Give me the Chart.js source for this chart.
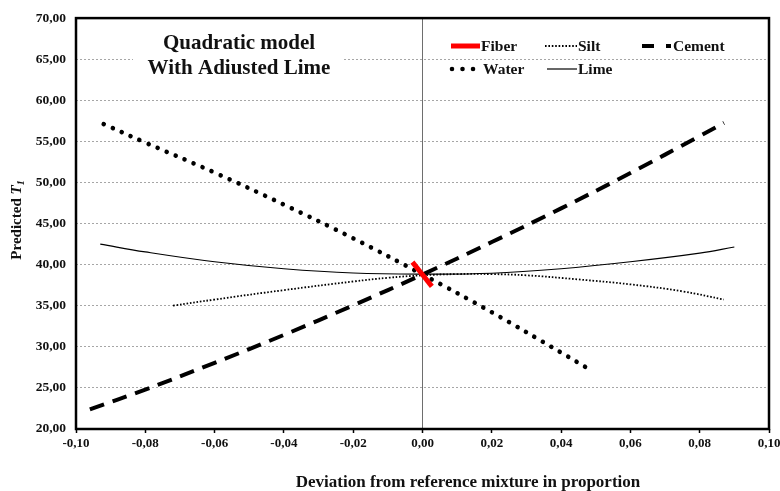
<!DOCTYPE html>
<html>
<head>
<meta charset="utf-8">
<script src="https://cdn.jsdelivr.net/npm/chart.js@4"></script>
<style>
  body { margin: 0; background: #fff; }
  canvas { display: block; }
</style>
</head>
<body>
<canvas id="myChart" width="780" height="491"></canvas>
<script>
// Datos (x = desviación, y = T1 predicho)
const xFiber = [-0.0029, 0.0027]
const yFiber = [40.3, 37.35]

const xSilt = [-0.072, -0.06, -0.04, -0.02, -0.01, 0, 0.01, 0.02, 0.03, 0.045, 0.06, 0.075, 0.087]
const ySilt = [35.0, 35.75, 36.9, 37.95, 38.4, 38.7, 38.85, 38.85, 38.7, 38.2, 37.6, 36.75, 35.75]

const xCement = [-0.096, -0.08, -0.06, -0.04, -0.02, 0, 0.02, 0.04, 0.06, 0.08, 0.087]
const yCement = [22.4, 24.8, 28.05, 31.45, 35.05, 38.8, 42.75, 46.85, 51.15, 55.65, 57.25]

const xWater = [-0.092, -0.08, -0.06, -0.04, -0.02, 0, 0.02, 0.04, 0.047]
const yWater = [57.1, 54.85, 51.2, 47.3, 43.2, 38.8, 34.2, 29.3, 27.55]

const xLime = [-0.093, -0.08, -0.06, -0.04, -0.02, 0, 0.02, 0.04, 0.06, 0.08, 0.09]
const yLime = [42.5, 41.55, 40.35, 39.5, 38.98, 38.85, 38.95, 39.5, 40.35, 41.4, 42.15]

const titleLines = ['Quadratic model', 'With Adiusted Lime']
const xTitle = 'Deviation from reference mixture in proportion'

const serif = '"Liberation Serif", "Times New Roman", serif'

// Une arrays x / y en puntos
const toPoints = (xs, ys) => xs.map((x, i) => ({x: x, y: ys[i]}))

// Formato con coma decimal
const fmt = v => (Math.abs(v) < 1e-9 ? 0 : v).toFixed(2).replace('.', ',')

// Dibuja marco, título, leyenda y títulos de ejes
const decor = {
  id: 'decor',
  beforeDatasetsDraw(chart) {
    const ctx = chart.ctx
    ctx.save()
    ctx.fillStyle = '#fff'
    ctx.fillRect(133, 28, 210, 56)
    ctx.restore()
  },
  afterDatasetsDraw(chart) {
    const ctx = chart.ctx
    const a = chart.chartArea
    ctx.save()

    // marco del área
    ctx.strokeStyle = '#000'
    ctx.lineWidth = 2.5
    ctx.strokeRect(a.left, a.top, a.right - a.left, a.bottom - a.top)

    // título
    ctx.fillStyle = '#111'
    ctx.font = `bold 21px ${serif}`
    ctx.textAlign = 'center'
    ctx.textBaseline = 'alphabetic'
    ctx.fillText(titleLines[0], 239, 49)
    ctx.fillText(titleLines[1], 239, 74)

    // leyenda
    const ds = chart.data.datasets
    const sample = (d, x1, x2, y) => {
      ctx.save()
      ctx.strokeStyle = d.borderColor
      ctx.lineWidth = d.borderWidth
      ctx.lineCap = d.borderCapStyle || 'butt'
      ctx.setLineDash(d.legendDash || d.borderDash || [])
      ctx.beginPath()
      ctx.moveTo(x1, y)
      ctx.lineTo(x2, y)
      ctx.stroke()
      ctx.restore()
    }
    sample(ds[0], 451, 480, 46)
    sample(ds[1], 545, 577, 46)
    sample(ds[2], 642, 671, 46)
    sample(ds[3], 452, 474, 69)
    sample(ds[4], 547, 577, 69)

    ctx.font = `bold 15.5px ${serif}`
    ctx.textAlign = 'left'
    ctx.fillText('Fiber', 481, 51)
    ctx.fillText('Silt', 578, 51)
    ctx.fillText('Cement', 673, 51)
    ctx.fillText('Water', 483, 74)
    ctx.fillText('Lime', 578, 74)
    ctx.restore()
  },
  afterDraw(chart) {
    const ctx = chart.ctx
    ctx.save()
    ctx.fillStyle = '#111'
    ctx.textBaseline = 'alphabetic'

    // título eje x
    ctx.font = `bold 17px ${serif}`
    ctx.textAlign = 'center'
    ctx.fillText(xTitle, 468, 487)

    // título eje y: "Predicted T1" con T en cursiva y subíndice
    ctx.translate(21, 220)
    ctx.rotate(-Math.PI / 2)
    const p1 = 'Predicted '
    ctx.font = `bold 15px ${serif}`
    const w1 = ctx.measureText(p1).width
    ctx.font = `bold italic 15px ${serif}`
    const w2 = ctx.measureText('T').width
    ctx.font = `bold italic 10px ${serif}`
    const w3 = ctx.measureText('1').width
    let x = -(w1 + w2 + w3) / 2
    ctx.textAlign = 'left'
    ctx.font = `bold 15px ${serif}`
    ctx.fillText(p1, x, 0)
    x += w1
    ctx.font = `bold italic 15px ${serif}`
    ctx.fillText('T', x, 0)
    x += w2
    ctx.font = `bold italic 10px ${serif}`
    ctx.fillText('1', x, 3)
    ctx.restore()
  }
}

const data = {
  datasets: [
    {
      label: 'Fiber',
      data: toPoints(xFiber, yFiber),
      borderColor: '#ff0000',
      borderWidth: 5,
    },
    {
      label: 'Silt',
      data: toPoints(xSilt, ySilt),
      borderColor: '#000',
      borderWidth: 1.8,
      borderDash: [1.6, 1.8],
    },
    {
      label: 'Cement',
      data: toPoints(xCement, yCement),
      borderColor: '#000',
      borderWidth: 4,
      borderDash: [15, 9],
      legendDash: [12, 12],
    },
    {
      label: 'Water',
      data: toPoints(xWater, yWater),
      borderColor: '#000',
      borderWidth: 4.6,
      borderDash: [0.01, 9.8],
      borderCapStyle: 'round',
      legendDash: [0.01, 10.5],
    },
    {
      label: 'Lime',
      data: toPoints(xLime, yLime),
      borderColor: '#000',
      borderWidth: 1.2,
    },
  ]
}

const config = {
  type: 'line',
  data: data,
  plugins: [decor],
  options: {
    responsive: false,
    animation: false,
    events: [],
    layout: {
      padding: {left: 0, right: 11, top: 14, bottom: 0}
    },
    elements: {
      point: {radius: 0},
      line: {tension: 0.4, fill: false}
    },
    plugins: {
      legend: {display: false},
      tooltip: {enabled: false},
    },
    scales: {
      x: {
        type: 'linear',
        min: -0.1,
        max: 0.1,
        afterFit: s => {
          s.height = 62
          s.paddingLeft = 0
          s.paddingRight = 0
        },
        ticks: {
          stepSize: 0.02,
          callback: v => fmt(v),
          color: '#111',
          padding: 3,
          maxRotation: 0,
          autoSkip: false,
          font: {family: serif, size: 13, weight: 'bold'},
        },
        grid: {
          color: c => (c.tick && Math.abs(c.tick.value) < 1e-9) ? '#6e6e6e' : 'rgba(0,0,0,0)',
          lineWidth: 1,
          tickColor: '#000',
          tickLength: 4,
          tickWidth: 1.5,
        },
        border: {display: false},
      },
      y: {
        min: 20,
        max: 70,
        afterFit: s => {
          s.width = 76
        },
        ticks: {
          stepSize: 5,
          callback: v => fmt(v),
          color: '#111',
          padding: 10,
          font: {family: serif, size: 13.5, weight: 'bold'},
        },
        grid: {
          color: c => (c.tick && (c.tick.value === 20 || c.tick.value === 70)) ? 'rgba(0,0,0,0)' : '#a6a6a6',
          lineWidth: 1,
          drawTicks: false,
        },
        border: {display: false, dash: [2, 2]},
      },
    }
  }
}

const ctx = document.getElementById('myChart')
const myChart = new Chart(ctx, config)
</script>
</body>
</html>
